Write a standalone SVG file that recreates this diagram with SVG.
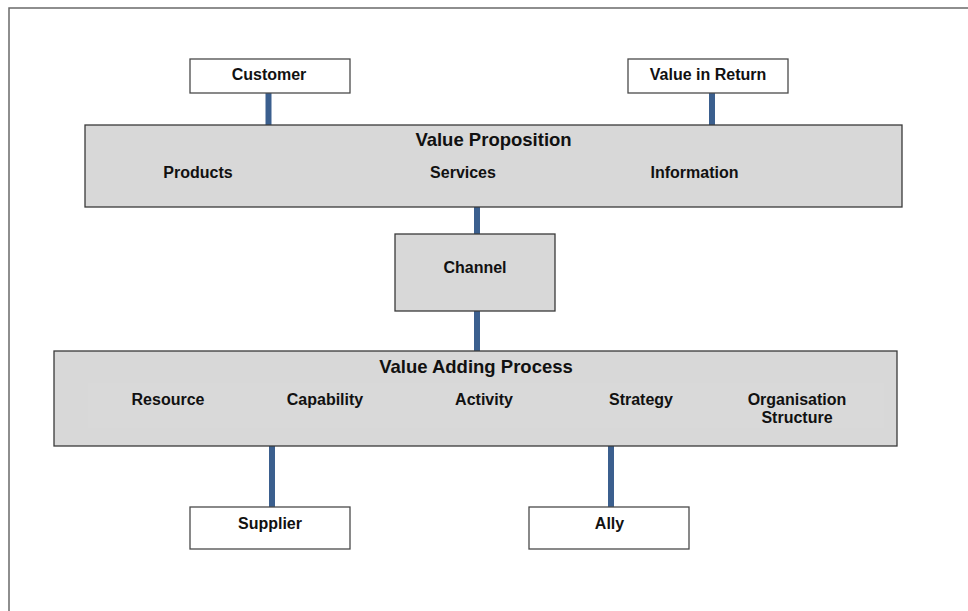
<svg xmlns="http://www.w3.org/2000/svg" width="968" height="611" viewBox="0 0 968 611">
<style>
  text { font-family: "Liberation Sans", Arial, sans-serif; font-weight: bold; fill: #111; text-anchor: middle; }
  .t { font-size: 16px; }
  .h { font-size: 18.5px; }
  .white { fill: #ffffff; stroke: #4a4a4a; stroke-width: 1.3; }
  .grey { fill: #d8d8d8; stroke: #3a3a3a; stroke-width: 1.3; }
  .conn { stroke: #3b5f8e; stroke-width: 6; fill: none; }
  .frame { stroke: #6a6a6a; stroke-width: 1.5; fill: none; }
</style>
<rect x="0" y="0" width="968" height="611" fill="#ffffff"/>
<path class="frame" d="M9,611 L9,8 L968,8"/>
<g id="connectors">
  <line class="conn" x1="268.5" y1="93" x2="268.5" y2="125"/>
  <line class="conn" x1="712" y1="93" x2="712" y2="125"/>
  <line class="conn" x1="477" y1="207" x2="477" y2="234"/>
  <line class="conn" x1="477" y1="311" x2="477" y2="351"/>
  <line class="conn" x1="272" y1="446" x2="272" y2="507"/>
  <line class="conn" x1="611" y1="446" x2="611" y2="507"/>
</g>
<g id="customer">
  <rect class="white" x="190" y="59" width="160" height="34"/>
  <text class="t" x="269" y="80">Customer</text>
</g>
<g id="value-in-return">
  <rect class="white" x="628" y="59" width="160" height="34"/>
  <text class="t" x="708" y="80">Value in Return</text>
</g>
<g id="value-proposition">
  <rect class="grey" x="85" y="125" width="817" height="82"/>
  <text class="h" x="493.5" y="146">Value Proposition</text>
  <text class="t" x="198" y="178">Products</text>
  <text class="t" x="463" y="178">Services</text>
  <text class="t" x="694.5" y="178">Information</text>
</g>
<g id="channel">
  <rect class="grey" x="395" y="234" width="160" height="77"/>
  <text class="t" x="475" y="272.5">Channel</text>
</g>
<g id="value-adding-process">
  <rect class="grey" x="54" y="351" width="843" height="95"/>
  <rect x="88" y="383" width="796" height="45" fill="#d9d9d9"/>
  <text class="h" x="476" y="372.5">Value Adding Process</text>
  <text class="t" x="168" y="405">Resource</text>
  <text class="t" x="325" y="405">Capability</text>
  <text class="t" x="484" y="405">Activity</text>
  <text class="t" x="641" y="405">Strategy</text>
  <text class="t" x="797" y="405">Organisation</text>
  <text class="t" x="797" y="422.5">Structure</text>
</g>
<g id="supplier">
  <rect class="white" x="190" y="507" width="160" height="42"/>
  <text class="t" x="270" y="529">Supplier</text>
</g>
<g id="ally">
  <rect class="white" x="529" y="507" width="160" height="42"/>
  <text class="t" x="609.5" y="529">Ally</text>
</g>
</svg>
